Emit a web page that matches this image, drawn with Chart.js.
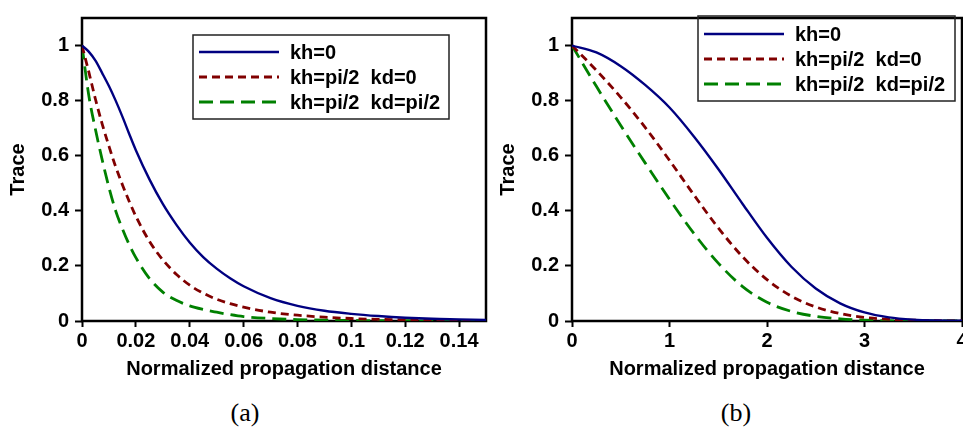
<!DOCTYPE html>
<html>
<head>
<meta charset="utf-8">
<script src="https://cdn.jsdelivr.net/npm/chart.js@4.4.0/dist/chart.umd.min.js"></script>
<style>
  html, body { margin: 0; padding: 0; background: #fff; overflow: hidden; }
  body { width: 963px; height: 429px; position: relative; }
  canvas { position: absolute; top: 0; }
  #graf-a { left: 0; }
  #graf-b { left: 490px; }
  .legenda-fig { position: absolute; top: 400px; font: 26px "Liberation Serif", serif; line-height: 26px; text-align: center; width: 60px; }
</style>
</head>
<body>
<canvas id="graf-a" width="490" height="390"></canvas>
<canvas id="graf-b" width="500" height="390"></canvas>
<div class="legenda-fig" style="left:215px">(a)</div>
<div class="legenda-fig" style="left:706px">(b)</div>
<script>
/* --- dados --- */
const ROTULOS = ['kh=0', 'kh=pi/2  kd=0', 'kh=pi/2  kd=pi/2'];
const CORES = ['#000080', '#800000', '#008000'];

// painel (a)
const A_X = [0, 0.0025, 0.005, 0.0075, 0.01, 0.0125, 0.015, 0.0175, 0.02, 0.025, 0.03, 0.035, 0.04, 0.045, 0.05, 0.055, 0.06, 0.07, 0.08, 0.09, 0.1, 0.11, 0.12, 0.13, 0.14, 0.15];
const A_KH0 = [1, 0.978, 0.945, 0.90, 0.853, 0.80, 0.742, 0.68, 0.62, 0.515, 0.425, 0.35, 0.285, 0.232, 0.19, 0.155, 0.126, 0.083, 0.055, 0.037, 0.026, 0.018, 0.012, 0.008, 0.006, 0.004];
const A_KD0 = [1, 0.905, 0.805, 0.715, 0.635, 0.56, 0.495, 0.435, 0.38, 0.29, 0.222, 0.17, 0.13, 0.101, 0.079, 0.063, 0.05, 0.032, 0.021, 0.014, 0.009, 0.006, 0.004, 0.003, 0.002, 0.001];
const A_KDPI = [1, 0.82, 0.695, 0.585, 0.485, 0.40, 0.335, 0.278, 0.23, 0.155, 0.105, 0.075, 0.055, 0.042, 0.032, 0.023, 0.016, 0.009, 0.005, 0.003, 0.002, 0.001, 0.001, 0, 0, 0];
const A_XTICKS = [0, 0.02, 0.04, 0.06, 0.08, 0.1, 0.12, 0.14];
const A_XTICK_LABELS = ['0', '0.02', '0.04', '0.06', '0.08', '0.1', '0.12', '0.14'];

// painel (b)
const B_X = [0, 0.25, 0.5, 0.75, 1, 1.25, 1.5, 1.75, 2, 2.25, 2.5, 2.75, 3, 3.25, 3.5, 3.75, 4];
const B_KH0 = [1, 0.975, 0.925, 0.857, 0.775, 0.67, 0.552, 0.425, 0.302, 0.197, 0.118, 0.064, 0.031, 0.013, 0.005, 0.002, 0.001];
const B_KD0 = [1, 0.91, 0.812, 0.703, 0.583, 0.458, 0.338, 0.233, 0.15, 0.09, 0.051, 0.027, 0.013, 0.006, 0.003, 0.001, 0];
const B_KDPI = [1, 0.852, 0.71, 0.574, 0.442, 0.318, 0.21, 0.125, 0.068, 0.035, 0.017, 0.008, 0.003, 0.001, 0, 0, 0];
const B_XTICKS = [0, 1, 2, 3, 4];
const B_XTICK_LABELS = ['0', '1', '2', '3', '4'];

const Y_TICKS = [0, 0.2, 0.4, 0.6, 0.8, 1];
const Y_TICK_LABELS = ['0', '0.2', '0.4', '0.6', '0.8', '1'];

const FONTE = '"Liberation Sans", Arial, sans-serif';
Chart.defaults.color = '#000';
Chart.defaults.font.family = FONTE;

/* moldura preta em volta da area do grafico */
const moldura = {
  id: 'moldura',
  beforeDatasetsDraw(chart) {
    const { ctx, chartArea: a } = chart;
    ctx.save();
    ctx.strokeStyle = '#000';
    ctx.lineWidth = 2.5;
    ctx.strokeRect(a.left, a.top, a.right - a.left, a.bottom - a.top);
    ctx.restore();
  }
};

/* legenda em caixa, desenhada a partir dos datasets */
const legendaCaixa = {
  id: 'legendaCaixa',
  afterDraw(chart, args, opts) {
    const { ctx } = chart;
    ctx.save();
    ctx.strokeStyle = '#222';
    ctx.lineWidth = 1.5;
    ctx.strokeRect(opts.x, opts.y, opts.w, opts.h);
    chart.data.datasets.forEach((ds, i) => {
      const y = opts.y + opts.first + i * opts.step;
      ctx.beginPath();
      ctx.setLineDash(ds.borderDash || []);
      ctx.strokeStyle = ds.borderColor;
      ctx.lineWidth = ds.borderWidth;
      ctx.moveTo(opts.x + 6, y);
      ctx.lineTo(opts.x + 86, y);
      ctx.stroke();
      ctx.setLineDash([]);
      ctx.fillStyle = '#000';
      ctx.font = 'bold 20px ' + FONTE;
      ctx.textBaseline = 'middle';
      ctx.fillText(ds.label, opts.x + 97, y + 1);
    });
    ctx.restore();
  }
};

function pontos(xs, ys) {
  return xs.map((x, i) => ({ x, y: ys[i] }));
}

function criarGrafico(id, xs, series, xMax, xTicks, xLabels, padDir, legenda) {
  const ctx = document.getElementById(id).getContext('2d');
  const dashes = [[], [8, 5], [14, 7]];
  const larguras = [2.4, 2.8, 2.8];
  return new Chart(ctx, {
    type: 'line',
    data: {
      datasets: series.map((ys, i) => ({
        label: ROTULOS[i],
        data: pontos(xs, ys),
        borderColor: CORES[i],
        borderWidth: larguras[i],
        borderDash: dashes[i],
        pointRadius: 0,
        cubicInterpolationMode: 'monotone',
        fill: false,
      })),
    },
    options: {
      responsive: false,
      animation: false,
      devicePixelRatio: 1,
      layout: { padding: { top: 8, right: padDir, left: 0, bottom: 0 } },
      plugins: {
        legend: { display: false },
        tooltip: { enabled: false },
        legendaCaixa: legenda,
      },
      scales: {
        x: {
          type: 'linear',
          min: 0,
          max: xMax,
          afterBuildTicks: (s) => { s.ticks = xTicks.map(v => ({ value: v })); },
          afterFit: (s) => { s.height = 69; },
          ticks: {
            callback: (v) => xLabels[xTicks.indexOf(v)],
            font: { size: 20, weight: 'bold' },
            padding: 2,
            maxRotation: 0,
          },
          grid: { drawOnChartArea: false, drawTicks: true, tickLength: 6, tickWidth: 2, tickColor: '#000' },
          border: { display: false },
          title: {
            display: true,
            text: 'Normalized propagation distance',
            font: { size: 20, weight: 'bold' },
            padding: { top: 0, bottom: 9 },
          },
        },
        y: {
          min: 0,
          max: 1.1,
          afterBuildTicks: (s) => { s.ticks = Y_TICKS.map(v => ({ value: v })); },
          afterFit: (s) => { s.width = 82; },
          ticks: {
            callback: (v) => Y_TICK_LABELS[Y_TICKS.indexOf(v)],
            font: { size: 20, weight: 'bold' },
            padding: 6,
          },
          grid: { drawOnChartArea: false, drawTicks: true, tickLength: 7, tickWidth: 2, tickColor: '#000' },
          border: { display: false },
          title: {
            display: true,
            text: 'Trace',
            font: { size: 20, weight: 'bold' },
            padding: { top: 6, bottom: 0 },
          },
        },
      },
    },
    plugins: [moldura, legendaCaixa],
  });
}

criarGrafico('graf-a', A_X, [A_KH0, A_KD0, A_KDPI], 0.15, A_XTICKS, A_XTICK_LABELS, 4,
  { x: 193, y: 35, w: 256, h: 84, first: 17, step: 25 });
criarGrafico('graf-b', B_X, [B_KH0, B_KD0, B_KDPI], 4, B_XTICKS, B_XTICK_LABELS, 28,
  { x: 208, y: 16, w: 257, h: 85, first: 18, step: 25 });
</script>
</body>
</html>
